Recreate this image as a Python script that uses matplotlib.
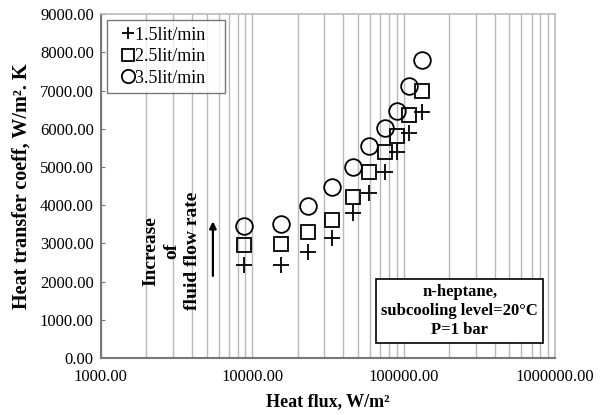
import numpy as np
import matplotlib.pyplot as plt
from matplotlib.ticker import FixedLocator, FuncFormatter, LogLocator, NullFormatter

plt.rcParams['font.family'] = ['Liberation Serif', 'DejaVu Serif']

# heat flux (W/m2), shared by all three flow rates
heat_flux = [8800, 15400, 23500, 33900, 46600, 59300, 75400, 91000, 109000, 133000]
# heat transfer coefficient (W/m2.K)
h_15 = [2430, 2440, 2780, 3140, 3800, 4330, 4880, 5400, 5890, 6430]
h_25 = [2960, 2980, 3310, 3610, 4220, 4880, 5400, 5800, 6360, 6990]
h_35 = [3450, 3500, 3980, 4480, 4990, 5560, 6010, 6470, 7130, 7800]

fig = plt.figure(figsize=(6, 4.15), dpi=100)
ax = fig.add_axes([0.168, 0.137, 0.757, 0.829])

ax.plot(heat_flux, h_15, '+', ms=11, mew=1.3, color='black', label='1.5lit/min   ')
ax.plot(heat_flux, h_25, 's', ms=10, mew=1.3, mfc='none', mec='black', label='2.5lit/min   ')
ax.plot(heat_flux, h_35, 'o', ms=12, mew=1.3, mfc='none', mec='black', label='3.5lit/min   ')

ax.set_xscale('log')
ax.set_xlim(1000, 1000000)
ax.set_ylim(0, 9000)
ax.xaxis.set_major_locator(FixedLocator([1e3, 1e4, 1e5, 1e6]))
ax.xaxis.set_minor_locator(LogLocator(base=10, subs=np.arange(2, 10)))
ax.xaxis.set_minor_formatter(NullFormatter())
ax.xaxis.set_major_formatter(FuncFormatter(lambda v, p: '%.2f' % v))
ax.yaxis.set_major_locator(FixedLocator(np.arange(0, 9001, 1000)))
ax.yaxis.set_major_formatter(FuncFormatter(lambda v, p: '%.2f' % v))

ax.grid(True, axis='x', which='both', color='#b8b8b8', lw=1)
ax.set_axisbelow(True)
ax.tick_params(axis='x', which='both', length=0, labelsize=12, pad=8)
ax.tick_params(axis='y', direction='in', length=3, labelsize=12, color='#777777', pad=5)
for side in ['left', 'bottom']:
    ax.spines[side].set_color('#777777')
    ax.spines[side].set_linewidth(1.5)
for side in ['top', 'right']:
    ax.spines[side].set_color('#bbbbbb')
    ax.spines[side].set_linewidth(1.2)

ax.set_xlabel('Heat flux, W/m²', fontsize=13, fontweight='bold', labelpad=6)
ax.set_ylabel('Heat transfer coeff, W/m². K', fontsize=14.5, fontweight='bold', labelpad=6)

leg = ax.legend(loc='upper left', fontsize=13, frameon=True, fancybox=False,
                borderaxespad=0.35, handletextpad=-0.4, handlelength=1.6,
                labelspacing=0.25, borderpad=0.35, markerscale=0.8)
leg.get_frame().set_edgecolor('#555555')
leg.get_frame().set_linewidth(1.0)

ax.text(2950, 2800, 'Increase\nof\nfluid flow rate', rotation=90, ha='center', va='center',
        fontsize=14, fontweight='bold', linespacing=1.3)
ax.annotate('', xy=(5500, 3650), xytext=(5500, 2080),
            arrowprops=dict(arrowstyle='-|>', color='black', lw=1.6, mutation_scale=10))

ax.text(0.79, 0.137, 'n-heptane,\nsubcooling level=20°C\nP=1 bar', transform=ax.transAxes,
        ha='center', va='center', fontsize=12, fontweight='bold', linespacing=1.25,
        bbox=dict(boxstyle='square,pad=0.3', fc='white', ec='black', lw=1.2))

fig.savefig('out.png', dpi=100)
